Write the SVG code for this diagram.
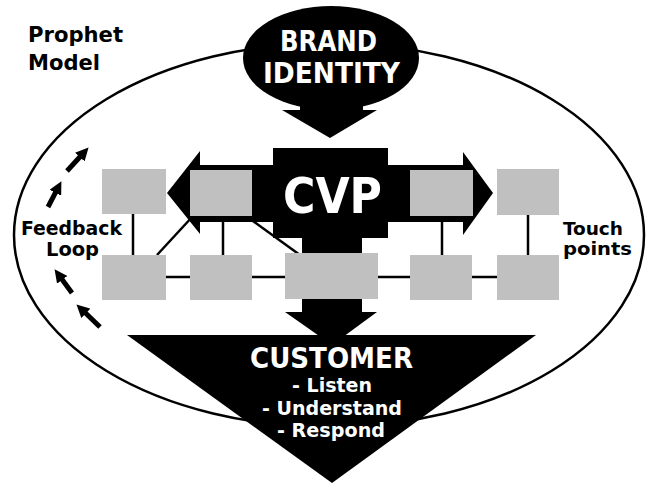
<svg xmlns="http://www.w3.org/2000/svg" width="650" height="489" viewBox="0 0 650 489">
<defs>
<style>
.lbl{font-family:"DejaVu Sans Condensed","DejaVu Sans",sans-serif;font-weight:bold;font-stretch:condensed;}
.blk{fill:#000;}
.wt{fill:#fff;}
.box{fill:#c0c0c0;}
.ln{stroke:#000;stroke-width:2.5;fill:none;}
.fb{stroke:#000;stroke-width:5;fill:none;marker-end:url(#ah);}
</style>
<marker id="ah" viewBox="0 0 10 10" refX="4" refY="5" markerWidth="13" markerHeight="13" markerUnits="userSpaceOnUse" orient="auto">
<path d="M0,0 L10,5 L0,10 z" fill="#000"/>
</marker>
</defs>
<rect width="650" height="489" fill="#fff"/>
<g id="outer-ellipse">
<ellipse cx="329" cy="235" rx="315" ry="192" fill="none" stroke="#000" stroke-width="2.5"/>
</g>
<g id="title">
<text class="lbl blk" x="28" y="42" font-size="22" textLength="95" lengthAdjust="spacingAndGlyphs">Prophet</text>
<text class="lbl blk" x="28" y="70" font-size="22" textLength="72" lengthAdjust="spacingAndGlyphs">Model</text>
</g>
<g id="brand-identity">
<ellipse cx="331" cy="58" rx="88" ry="52" class="blk"/>
<polygon class="blk" points="300,95 363,95 363,110 377,110 330,138 282,110 300,110"/>
<text class="lbl wt" x="280" y="51" font-size="28" textLength="97" lengthAdjust="spacingAndGlyphs">BRAND</text>
<text class="lbl wt" x="263" y="83" font-size="28" textLength="137" lengthAdjust="spacingAndGlyphs">IDENTITY</text>
</g>
<g id="cvp">
<polygon class="blk" points="200,165 200,151 167,193 200,234 200,222 463,222 463,235 493,193 463,152 463,165"/>
<rect class="blk" x="273" y="148" width="115" height="90"/>
<polygon class="blk" points="302,236 362,236 362,312 377,312 332,345 285,312 302,312"/>
<text class="lbl wt" x="283" y="213" font-size="49" textLength="99" lengthAdjust="spacingAndGlyphs">CVP</text>
</g>
<g id="customer">
<polygon class="blk" points="127,335 536,335 332,483"/>
<text class="lbl wt" x="250" y="368" font-size="29" textLength="163" lengthAdjust="spacingAndGlyphs">CUSTOMER</text>
<text class="lbl wt" x="292" y="392" font-size="20" textLength="80" lengthAdjust="spacingAndGlyphs">- Listen</text>
<text class="lbl wt" x="262" y="415" font-size="20" textLength="140" lengthAdjust="spacingAndGlyphs">- Understand</text>
<text class="lbl wt" x="277" y="437" font-size="20" textLength="108" lengthAdjust="spacingAndGlyphs">- Respond</text>
</g>
<g id="connectors">
<line class="ln" x1="133" y1="214" x2="133" y2="255"/>
<line class="ln" x1="157" y1="255" x2="193" y2="216"/>
<line class="ln" x1="223" y1="216" x2="223" y2="255"/>
<line class="ln" x1="246" y1="216" x2="300" y2="255"/>
<line class="ln" x1="442" y1="216" x2="442" y2="255"/>
<line class="ln" x1="528" y1="215" x2="528" y2="255"/>
<line class="ln" x1="166" y1="277" x2="190" y2="277"/>
<line class="ln" x1="252" y1="277" x2="285" y2="277"/>
<line class="ln" x1="378" y1="277" x2="410" y2="277"/>
<line class="ln" x1="472" y1="277" x2="497" y2="277"/>
<line class="fb" x1="67" y1="171" x2="83.3" y2="153.2"/>
<line class="fb" x1="48" y1="207" x2="57.8" y2="188.2"/>
<line class="fb" x1="72" y1="293" x2="59.2" y2="275.6"/>
<line class="fb" x1="100" y1="327" x2="82.1" y2="309.8"/>
</g>
<g id="touchpoints">
<rect id="tp1" class="box" x="102" y="169" width="64" height="45"/>
<rect id="tp2" class="box" x="190" y="170" width="62" height="46"/>
<rect id="tp3" class="box" x="410" y="170" width="63" height="46"/>
<rect id="tp4" class="box" x="497" y="169" width="62" height="46"/>
<rect id="tp5" class="box" x="102" y="255" width="64" height="45"/>
<rect id="tp6" class="box" x="190" y="255" width="62" height="45"/>
<rect id="tp7" class="box" x="285" y="253" width="93" height="46"/>
<rect id="tp8" class="box" x="410" y="255" width="62" height="45"/>
<rect id="tp9" class="box" x="497" y="255" width="62" height="45"/>
</g>
<g id="feedback-label">
<text class="lbl blk" x="21" y="235" font-size="19" textLength="101" lengthAdjust="spacingAndGlyphs">Feedback</text>
<text class="lbl blk" x="46" y="256" font-size="19" textLength="53" lengthAdjust="spacingAndGlyphs">Loop</text>
</g>
<g id="touch-label">
<text class="lbl blk" x="563" y="235" font-size="18" textLength="60" lengthAdjust="spacingAndGlyphs">Touch</text>
<text class="lbl blk" x="563" y="255" font-size="18" textLength="69" lengthAdjust="spacingAndGlyphs">points</text>
</g>
</svg>
